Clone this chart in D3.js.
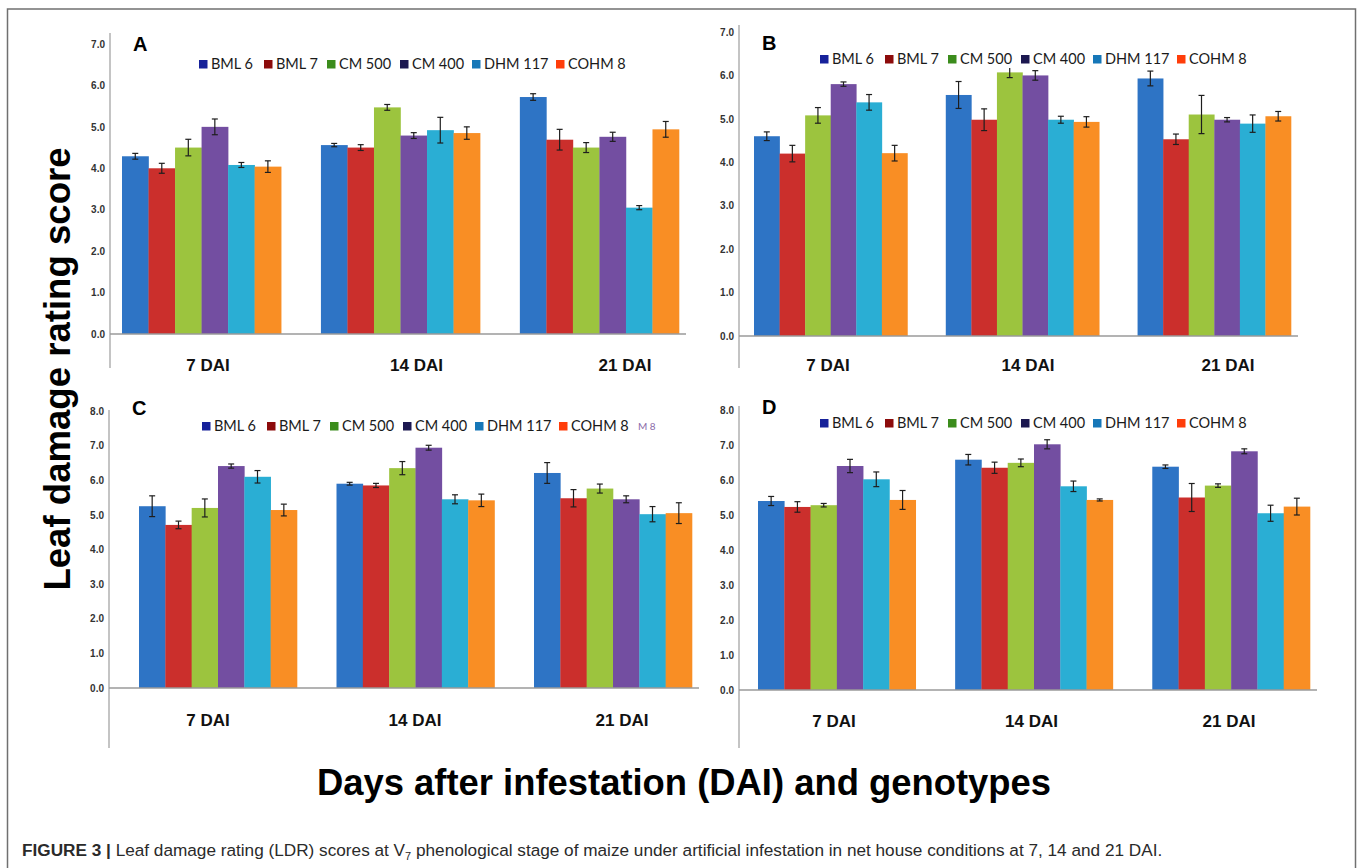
<!DOCTYPE html>
<html>
<head>
<meta charset="utf-8">
<script src="https://cdn.jsdelivr.net/npm/d3@7"></script>
<style>
  body { margin: 0; background: #fff; }
  svg { display: block; font-family: 'Liberation Sans', Arial, sans-serif; }
  .tick text { font-weight: bold; font-size: 10px; fill: #333; }
  .legend text { font-family: Lato, sans-serif; font-size: 14.5px; fill: #1a1a1a; }
</style>
</head>
<body>
<div id="chart"></div>
<script>
const genotypes = ['BML 6', 'BML 7', 'CM 500', 'CM 400', 'DHM 117', 'COHM 8']
const stages = ['7 DAI', '14 DAI', '21 DAI']
const barColors = ['#2e74c5', '#cb2f2c', '#9cc43e', '#734ea1', '#2aaed4', '#f98e24']
const legendColors = ['#16219a', '#8c0b0b', '#3b8c1c', '#1c1850', '#1677b8', '#ff3d0a']

// rows = stages, columns = genotypes
const valuesA = [[4.29, 4.0, 4.5, 5.0, 4.08, 4.04], [4.56, 4.5, 5.47, 4.79, 4.92, 4.85], [5.72, 4.69, 4.5, 4.76, 3.05, 4.94]]
const errorsA = [[0.07, 0.12, 0.2, 0.19, 0.06, 0.14], [0.04, 0.07, 0.07, 0.07, 0.31, 0.15], [0.08, 0.25, 0.12, 0.11, 0.05, 0.19]]
const valuesB = [[4.6, 4.2, 5.08, 5.8, 5.38, 4.21], [5.55, 4.98, 6.07, 6.0, 4.98, 4.93], [5.93, 4.53, 5.1, 4.98, 4.89, 5.06]]
const errorsB = [[0.1, 0.19, 0.18, 0.05, 0.18, 0.18], [0.31, 0.25, 0.12, 0.11, 0.08, 0.12], [0.17, 0.12, 0.44, 0.05, 0.2, 0.11]]
const valuesC = [[5.25, 4.71, 5.2, 6.41, 6.1, 5.14], [5.9, 5.85, 6.35, 6.94, 5.45, 5.42], [6.21, 5.48, 5.76, 5.45, 5.02, 5.05]]
const errorsC = [[0.3, 0.11, 0.26, 0.06, 0.18, 0.17], [0.04, 0.06, 0.19, 0.07, 0.13, 0.18], [0.3, 0.25, 0.13, 0.1, 0.22, 0.3]]
const valuesD = [[5.4, 5.23, 5.28, 6.4, 6.02, 5.43], [6.58, 6.35, 6.49, 7.02, 5.82, 5.43], [6.38, 5.5, 5.84, 6.82, 5.05, 5.24]]
const errorsD = [[0.13, 0.15, 0.05, 0.19, 0.21, 0.27], [0.15, 0.16, 0.11, 0.13, 0.15, 0.03], [0.05, 0.4, 0.05, 0.07, 0.23, 0.24]]

const ticks7 = [0, 1, 2, 3, 4, 5, 6, 7]
const ticks8 = [0, 1, 2, 3, 4, 5, 6, 7, 8]

const legendOffsets = [0, 65, 128, 201, 273, 357]

const panels = [
  { name: 'A', values: valuesA, errors: errorsA, ticks: ticks7, axisX: 110, y0: 334, y1: 44, lineTop: 33, lineBottom: 368,
    x0: 122, x1: 679, lab: [208, 625], labY: 371, legX: 199, legY: 64, letterY: 51 },
  { name: 'B', values: valuesB, errors: errorsB, ticks: ticks7, axisX: 739, y0: 336, y1: 32, lineTop: 25, lineBottom: 368,
    x0: 754, x1: 1291, lab: [828, 1228], labY: 371, legX: 820, legY: 59, letterY: 50 },
  { name: 'C', values: valuesC, errors: errorsC, ticks: ticks8, axisX: 109, y0: 688, y1: 411, lineTop: 410, lineBottom: 748,
    x0: 139, x1: 692, lab: [208, 622], labY: 726, legX: 202, legY: 426, letterY: 415, extra: 'M 8' },
  { name: 'D', values: valuesD, errors: errorsD, ticks: ticks8, axisX: 739, y0: 690, y1: 410, lineTop: 406, lineBottom: 748,
    x0: 758, x1: 1310, lab: [834, 1229], labY: 727, legX: 820, legY: 423, letterY: 414 }
]

const W = 1358, H = 868
const svg = d3.select('#chart').append('svg')
  .attr('width', W)
  .attr('height', H)

svg.append('rect')
  .attr('x', 7.5).attr('y', 9)
  .attr('width', 1348).attr('height', 900)
  .attr('fill', 'none')
  .attr('stroke', '#707070')
  .attr('stroke-width', 1.5)

panels.forEach(drawPanel)

function drawPanel(p) {
  const g = svg.append('g').attr('class', 'panel')
  const yMax = d3.max(p.ticks)
  const y = d3.scaleLinear().domain([0, yMax]).range([p.y0, p.y1])
  const x = d3.scaleBand().domain(stages).range([p.x0, p.x1]).paddingInner(0.2).paddingOuter(0)
  const xi = d3.scaleBand().domain(genotypes).range([0, x.bandwidth()])
  const labX = d3.scalePoint().domain(stages).range(p.lab)

  // y axis line + labels
  g.append('line')
    .attr('x1', p.axisX).attr('x2', p.axisX)
    .attr('y1', p.lineTop).attr('y2', p.lineBottom)
    .attr('stroke', '#b0b0b0').attr('stroke-width', 1.5)
  const ax = g.append('g')
    .attr('transform', `translate(${p.axisX},0)`)
    .call(d3.axisLeft(y).tickValues(p.ticks).tickFormat(d3.format('.1f')).tickSize(0).tickPadding(5))
  ax.select('.domain').remove()

  const groups = g.selectAll('.grp')
    .data(stages)
    .enter()
    .append('g')
    .attr('class', 'grp')
    .attr('transform', d => `translate(${x(d)},0)`)

  groups.each(function(stage, si) {
    const rows = genotypes.map((gt, gi) => ({ gt, gi, v: p.values[si][gi], e: p.errors[si][gi] }))
    const sel = d3.select(this)
    sel.selectAll('rect')
      .data(rows)
      .enter()
      .append('rect')
      .attr('x', d => xi(d.gt))
      .attr('width', xi.bandwidth() + 0.3)
      .attr('y', d => y(d.v))
      .attr('height', d => y(0) - y(d.v))
      .attr('fill', d => barColors[d.gi])
    const eb = sel.selectAll('.err')
      .data(rows)
      .enter()
      .append('g')
      .attr('class', 'err')
      .attr('stroke', '#1e1e1e')
      .attr('stroke-width', 1.2)
    const cx = d => xi(d.gt) + xi.bandwidth() / 2
    eb.append('line')
      .attr('x1', cx).attr('x2', cx)
      .attr('y1', d => y(d.v + d.e)).attr('y2', d => y(d.v - d.e))
    eb.append('line')
      .attr('x1', d => cx(d) - 3).attr('x2', d => cx(d) + 3)
      .attr('y1', d => y(d.v + d.e)).attr('y2', d => y(d.v + d.e))
    eb.append('line')
      .attr('x1', d => cx(d) - 3).attr('x2', d => cx(d) + 3)
      .attr('y1', d => y(d.v - d.e)).attr('y2', d => y(d.v - d.e))
  })

  // baseline
  g.append('line')
    .attr('x1', p.axisX).attr('x2', p.x1 + 7)
    .attr('y1', y(0)).attr('y2', y(0))
    .attr('stroke', '#9a9a9a').attr('stroke-width', 1.5)

  // category labels
  g.selectAll('.cat')
    .data(stages)
    .enter()
    .append('text')
    .attr('class', 'cat')
    .attr('x', d => labX(d))
    .attr('y', p.labY)
    .attr('text-anchor', 'middle')
    .attr('font-weight', 'bold')
    .attr('font-size', 17)
    .attr('fill', '#111')
    .text(d => d)

  // panel letter
  g.append('text')
    .attr('x', p.axisX + 23)
    .attr('y', p.letterY)
    .attr('font-weight', 'bold')
    .attr('font-size', 20)
    .text(p.name)

  // legend
  const leg = g.append('g').attr('class', 'legend')
    .attr('transform', `translate(${p.legX},${p.legY})`)
  leg.append('rect')
    .attr('x', -3).attr('y', -9)
    .attr('width', 430).attr('height', 18)
    .attr('fill', '#fff')
  const item = leg.selectAll('.item')
    .data(genotypes)
    .enter()
    .append('g')
    .attr('class', 'item')
    .attr('transform', (d, i) => `translate(${legendOffsets[i]},0)`)
  item.append('rect')
    .attr('x', 0).attr('y', -4)
    .attr('width', 8.5).attr('height', 8.5)
    .attr('fill', (d, i) => legendColors[i])
  item.append('text')
    .attr('x', 12)
    .attr('y', 5)
    .text(d => d)
  if (p.extra) {
    leg.append('text')
      .attr('x', 436)
      .attr('y', 4)
      .style('font-size', '10px')
      .style('fill', '#8a6aa8')
      .text(p.extra)
  }
}

// axis titles
svg.append('text')
  .attr('transform', 'translate(70,369) rotate(-90)')
  .attr('text-anchor', 'middle')
  .attr('font-weight', 'bold')
  .attr('font-size', 36.6)
  .attr('fill', '#000')
  .text('Leaf damage rating score')

svg.append('text')
  .attr('x', 684)
  .attr('y', 795)
  .attr('text-anchor', 'middle')
  .attr('font-weight', 'bold')
  .attr('font-size', 36.4)
  .attr('fill', '#000')
  .text('Days after infestation (DAI) and genotypes')

// caption
const cap = svg.append('text')
  .attr('x', 22)
  .attr('y', 856)
  .attr('font-size', 17.2)
  .attr('fill', '#2a2a2a')
cap.append('tspan').attr('font-weight', 'bold').text('FIGURE 3 | ')
cap.append('tspan').text('Leaf damage rating (LDR) scores at V')
cap.append('tspan').attr('font-size', 11).attr('dy', 4).text('7')
cap.append('tspan').attr('dy', -4).text(' phenological stage of maize under artificial infestation in net house conditions at 7, 14 and 21 DAI.')
</script>
</body>
</html>
